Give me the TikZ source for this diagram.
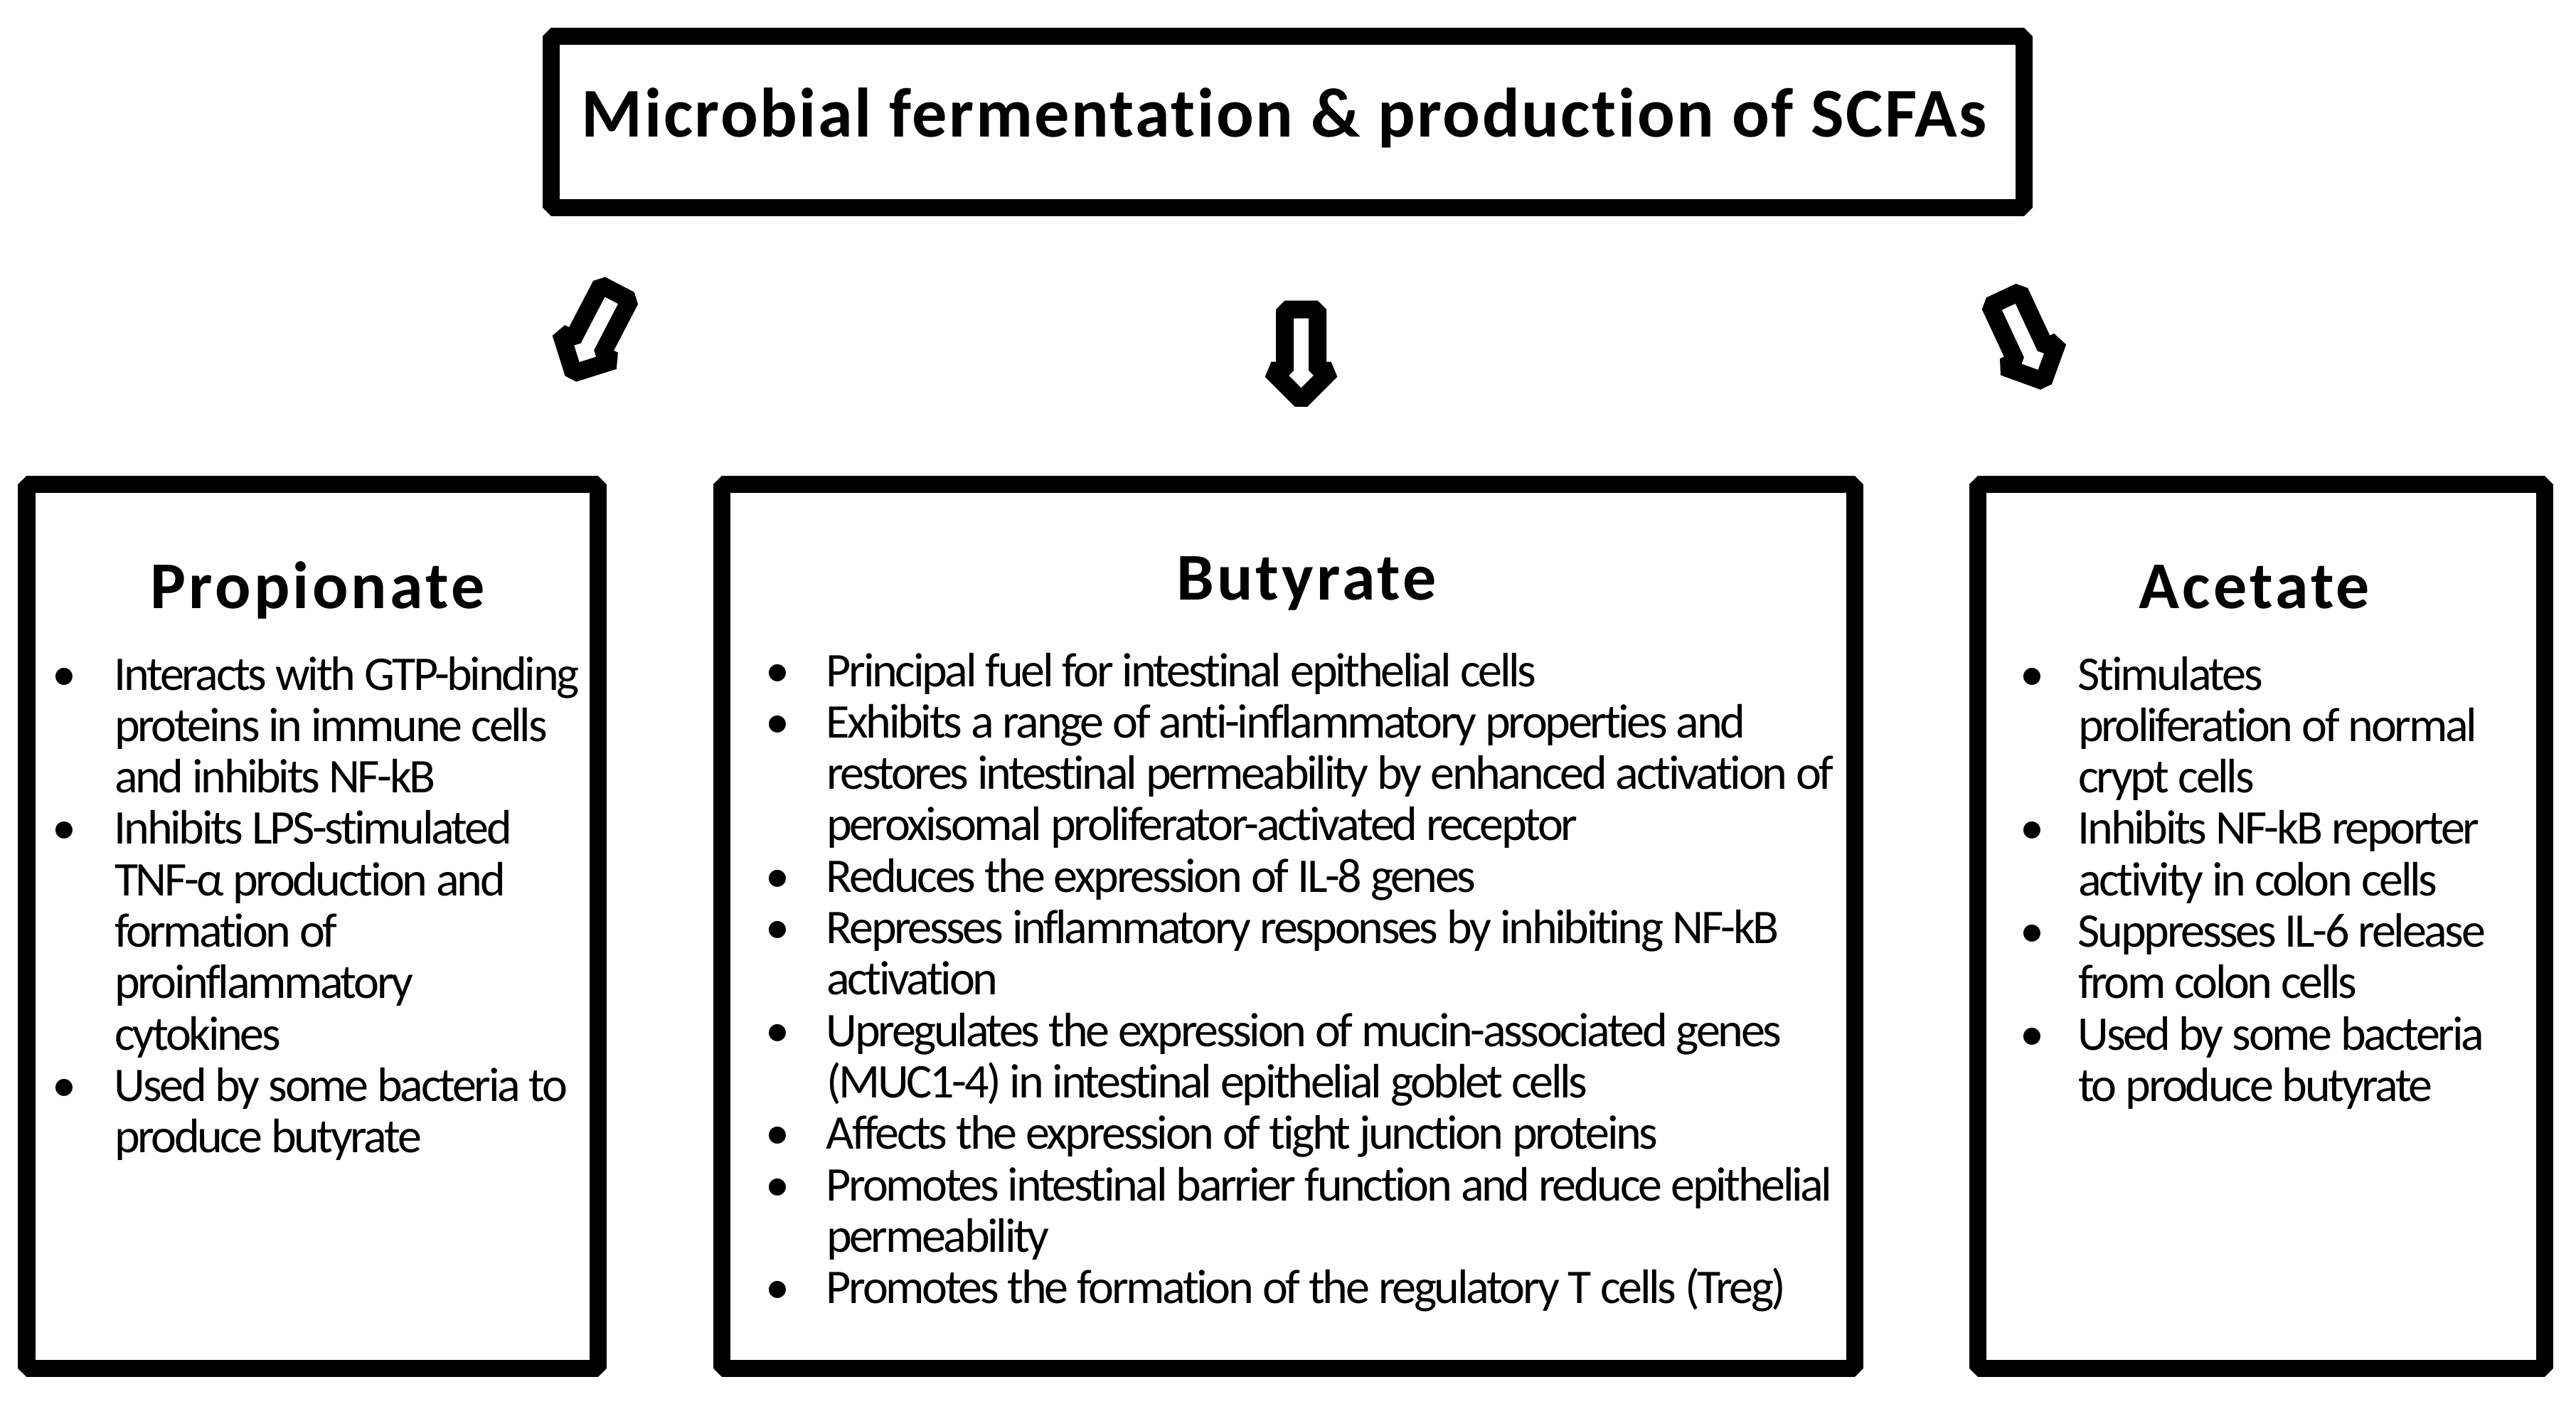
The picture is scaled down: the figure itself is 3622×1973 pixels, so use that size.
\documentclass[tikz,border=0pt]{standalone}
\usepackage{fontspec}
\setmainfont{Carlito}[Ligatures={NoCommon}]
\newfontfamily\bodyfont{Carlito}[LetterSpace=-4.9,Ligatures={NoCommon}]
\newfontfamily\headfont{Carlito}[LetterSpace=4.5,Ligatures={NoCommon}]
\newfontfamily\titlefont{Carlito}[LetterSpace=2.6,Ligatures={NoCommon}]
\newlength\bulw
\newcommand\tline[1]{\hbox{#1}}
\newcommand\bline[1]{\hbox{\llap{\makebox[\bulw][c]{•}}#1}}
\newcommand\blines[1]{\vtop{\bodyfont\fontsize{68}{72.3}\selectfont\baselineskip=72.3pt\lineskiplimit=-200pt\lineskip=0pt #1}}
\begin{document}
\begin{tikzpicture}[x=1pt,y=-1pt,line join=bevel,
  frame/.style={draw,line width=24.5pt,inner sep=0pt,outer sep=0pt,line join=bevel},
  blockarrow/.style={draw,line width=25pt,line join=bevel},
  txt/.style={inner sep=0pt,outer sep=0pt,anchor=base west},
  head/.style={inner sep=0pt,anchor=base,font=\headfont\bfseries\fontsize{94}{100}\selectfont}]
\useasboundingbox (0,0) rectangle (3622,1973);
% boxes
\node[frame,minimum width=2071pt,minimum height=241pt] (top) at (1810.5,171.5) {};
\node[frame,minimum width=803.5pt,minimum height=1243pt] (prop) at (439.25,1302.5) {};
\node[frame,minimum width=1593pt,minimum height=1243pt] (buty) at (1811.5,1302.5) {};
\node[frame,minimum width=797pt,minimum height=1243pt] (acet) at (3179.5,1302.5) {};
% title
\node[inner sep=0pt,anchor=base,font=\titlefont\bfseries\fontsize{98.3}{110}\selectfont] (toptext) at (1805.5,192.7) {Microbial fermentation \& production of SCFAs};
% block arrows
\draw[blockarrow,shift={(836,468)},rotate=-27.5] (-23,-64) -- (23,-64) -- (23,22) -- (42,22) -- (0,64) -- (-42,22) -- (-23,22) -- cycle;
\draw[blockarrow,shift={(1829.5,499)}] (-23,-64) -- (23,-64) -- (23,22) -- (42,22) -- (0,64) -- (-42,22) -- (-23,22) -- cycle;
\draw[blockarrow,shift={(2846,478)},rotate=25] (-23,-64) -- (23,-64) -- (23,22) -- (42,22) -- (0,64) -- (-42,22) -- (-23,22) -- cycle;
% headings
\node[head] (proph) at (446.5,855) {Propionate};
\node[head] (butyh) at (1837,843.3) {Butyrate};
\node[head] (aceth) at (3170,855) {Acetate};
% texts
\node[txt] (proptext) at (161,970) {\blines{\setlength\bulw{140.6pt}
\bline{Interacts with GTP-binding}
\tline{proteins in immune cells}
\tline{and inhibits NF-kB}
\bline{Inhibits LPS-stimulated}
\tline{TNF-α production and}
\tline{formation of}
\tline{proinflammatory}
\tline{cytokines}
\bline{Used by some bacteria to}
\tline{produce butyrate}}};
\node[txt] (butytext) at (1162,965) {\blines{\setlength\bulw{138pt}
\bline{Principal fuel for intestinal epithelial cells}
\bline{Exhibits a range of anti-inflammatory properties and}
\tline{restores intestinal permeability by enhanced activation of}
\tline{peroxisomal proliferator-activated receptor}
\bline{Reduces the expression of IL-8 genes}
\bline{Represses inflammatory responses by inhibiting NF-kB}
\tline{activation}
\bline{Upregulates the expression of mucin-associated genes}
\tline{(MUC1-4) in intestinal epithelial goblet cells}
\bline{Affects the expression of tight junction proteins}
\bline{Promotes intestinal barrier function and reduce epithelial}
\tline{permeability}
\bline{Promotes the formation of the regulatory T cells (Treg)}}};
\node[txt] (acettext) at (2922,970) {\blines{\setlength\bulw{130pt}
\bline{Stimulates}
\tline{proliferation of normal}
\tline{crypt cells}
\bline{Inhibits NF-kB reporter}
\tline{activity in colon cells}
\bline{Suppresses IL-6 release}
\tline{from colon cells}
\bline{Used by some bacteria}
\tline{to produce butyrate}}};
\end{tikzpicture}
\end{document}
